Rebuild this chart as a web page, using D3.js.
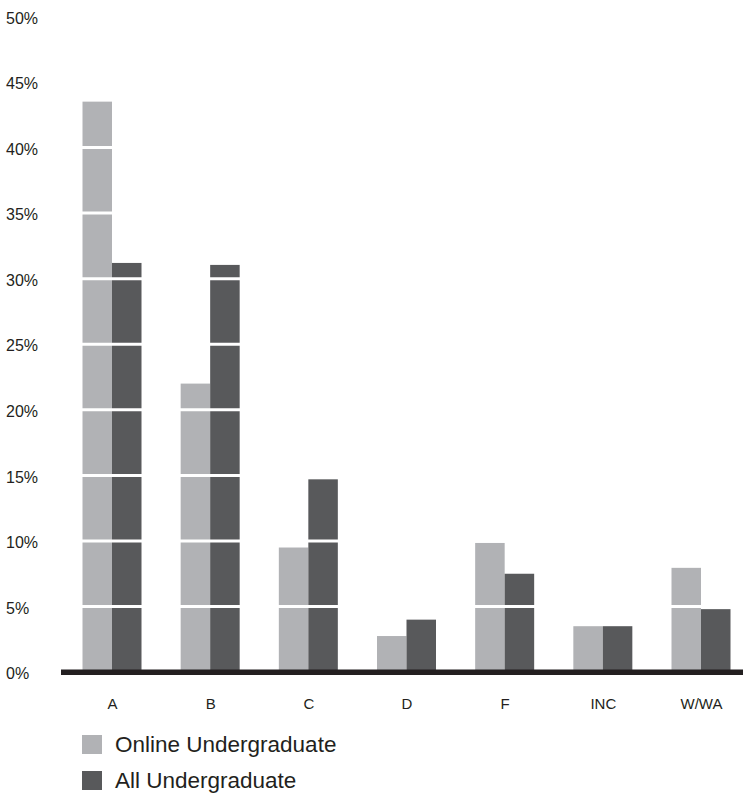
<!DOCTYPE html>
<html>
<head>
<meta charset="utf-8">
<script src="https://cdn.jsdelivr.net/npm/d3@7"></script>
<style>
  body { margin: 0; background: #fff; }
  svg text { font-family: "Liberation Sans", Arial, Helvetica, sans-serif; fill: #231f20; }
</style>
</head>
<body>
<svg id="chart" width="743" height="794"></svg>
<script>
// data
let grades = ["A", "B", "C", "D", "F", "INC", "W/WA"]
let seriesNames = ["Online Undergraduate", "All Undergraduate"]
let onlineValues = [43.5, 22.0, 9.5, 2.75, 9.85, 3.5, 7.95]
let allValues = [31.2, 31.05, 14.7, 4.0, 7.5, 3.5, 4.8]
let yTickValues = [0, 5, 10, 15, 20, 25, 30, 35, 40, 45, 50]
let colors = ["#b1b2b5", "#58595b"]

let svg = d3.select("#chart")

//scales
let y = d3.scaleLinear()
    .domain([0, 50])
    .range([672.1, 16.4])
let x = d3.scalePoint()
    .domain(grades)
    .range([112, 701])
let xSub = d3.scaleBand()
    .domain(seriesNames)
    .range([-29.5, 29.5])

let rows = grades.map((g, i) => ({grade: g, values: [onlineValues[i], allValues[i]]}))

//bars
let groups = svg.append("g").selectAll("g")
    .data(rows)
    .join("g")
    .attr("transform", d => "translate(" + x(d.grade) + ",0)")
groups.selectAll("rect")
    .data(d => d.values.map((v, j) => ({name: seriesNames[j], value: v, j: j})))
    .join("rect")
    .attr("x", d => xSub(d.name))
    .attr("width", xSub.bandwidth())
    .attr("y", d => y(d.value))
    .attr("height", d => y(0) - y(d.value))
    .style("fill", d => colors[d.j])

//white grid lines cutting through the bars
svg.append("g").selectAll("line")
    .data(yTickValues.filter(d => d > 0))
    .join("line")
    .attr("x1", 62)
    .attr("x2", 743)
    .attr("y1", d => y(d))
    .attr("y2", d => y(d))
    .style("stroke", "#fff")
    .style("stroke-width", 3)

//baseline
svg.append("line")
    .attr("x1", 61)
    .attr("x2", 743)
    .attr("y1", y(0) + 0.2)
    .attr("y2", y(0) + 0.2)
    .style("stroke", "#231f20")
    .style("stroke-width", 5.5)

//y axis labels
let yAxis = d3.axisLeft(y)
    .tickValues(yTickValues)
    .tickFormat(d => d + "%")
    .tickSize(0)
    .tickPadding(0)
let gy = svg.append("g")
    .attr("transform", "translate(6,1.5)")
    .call(yAxis)
gy.select(".domain").remove()
gy.selectAll("text")
    .attr("text-anchor", "start")
    .attr("x", 0)
    .style("font-size", "16px")
    .style("font-family", "'Liberation Sans', Arial, sans-serif")
    .style("fill", "#231f20")

//x axis labels
let xAxis = d3.axisBottom(x)
    .tickSize(0)
    .tickPadding(0)
let gx = svg.append("g")
    .attr("transform", "translate(0,698)")
    .call(xAxis)
gx.select(".domain").remove()
gx.selectAll("text")
    .attr("dy", "0.71em")
    .style("font-size", "15px")
    .style("font-family", "'Liberation Sans', Arial, sans-serif")
    .style("fill", "#231f20")

//legend
let legend = svg.append("g").selectAll("g")
    .data(seriesNames)
    .join("g")
    .attr("transform", (d, i) => "translate(82," + (735 + i * 36) + ")")
legend.append("rect")
    .attr("width", 20)
    .attr("height", 19)
    .style("fill", (d, i) => colors[i])
legend.append("text")
    .attr("x", 33)
    .attr("y", 17)
    .style("font-size", "22.5px")
    .text(d => d)
</script>
</body>
</html>
